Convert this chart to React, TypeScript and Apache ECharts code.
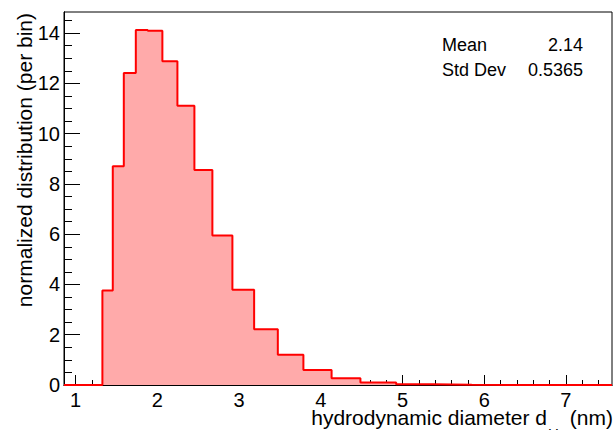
import React, { useEffect, useRef } from "react";
import * as echarts from "echarts";

// bin edges (nm) and bin contents
const binEdges = [0.857, 0.935, 1.02, 1.114, 1.216, 1.327, 1.454, 1.589, 1.736, 1.882, 2.061, 2.245, 2.453, 2.673, 2.918, 3.184, 3.474, 3.787, 4.132, 4.485, 4.922, 5.378, 5.848, 6.383, 6.967, 7.564];
const binValues = [0, 0, 0, 0, 0, 3.76, 8.7, 12.41, 14.12, 14.09, 12.88, 11.11, 8.55, 5.95, 3.79, 2.22, 1.2, 0.6, 0.27, 0.1, 0.03, 0.01, 0, 0, 0];
const xTickLabels = [1, 2, 3, 4, 5, 6, 7];
const yTickLabels = [0, 2, 4, 6, 8, 10, 12, 14];
const statNames = ["Mean", "Std Dev"];
const statValues = ["2.14", "0.5365"];

const X_MIN = 0.857;
const X_MAX = 7.564;
const Y_MAX = 14.84;
const FONT = "'Liberation Sans', Arial, Helvetica, sans-serif";

function range(a: number, b: number, step: number): number[] {
  const out: number[] = [];
  for (let v = a; v <= b + 1e-9; v += step) out.push(Math.round(v * 1000) / 1000);
  return out;
}

export default function App() {
  const ref = useRef<HTMLDivElement>(null);
  useEffect(() => {
    if (!ref.current) return;
    const chart = echarts.init(ref.current, null, { renderer: "svg" });
    const data = binEdges.map((e, i) => [e, binValues[Math.min(i, binValues.length - 1)]]);
    const xMinor = range(0.2, 7.6, 0.2).filter((v) => v > X_MIN && v < X_MAX);
    const yMinor = range(0, 14.5, 0.5);
    const grid = { left: 64, right: 2, top: 12, bottom: 45, show: true, borderColor: "#000", borderWidth: 1, backgroundColor: "transparent" };
    const baseX = {
      type: "value",
      min: X_MIN,
      max: X_MAX,
      position: "bottom",
      splitLine: { show: false },
      axisLine: { show: true, onZero: false, lineStyle: { color: "#000", width: 1 } },
    };
    const baseY = {
      type: "value",
      min: 0,
      max: Y_MAX,
      position: "left",
      splitLine: { show: false },
      axisLine: { show: true, onZero: false, lineStyle: { color: "#000", width: 1 } },
    };
    chart.setOption({
      animation: false,
      grid,
      xAxis: [
        {
          ...baseX,
          axisTick: { show: true, inside: true, length: 10, customValues: xTickLabels, lineStyle: { color: "#000" } },
          axisLabel: { show: true, customValues: xTickLabels, margin: 8, lineHeight: 14, fontSize: 20, color: "#000", fontFamily: FONT },
        },
        {
          ...baseX,
          axisTick: { show: true, inside: true, length: 5, customValues: xMinor, lineStyle: { color: "#000" } },
          axisLabel: { show: false },
        },
      ],
      yAxis: [
        {
          ...baseY,
          axisTick: { show: true, inside: true, length: 16, customValues: yTickLabels, lineStyle: { color: "#000" } },
          axisLabel: { show: true, customValues: yTickLabels, margin: 4, fontSize: 20, color: "#000", fontFamily: FONT },
        },
        {
          ...baseY,
          offset: 0,
          axisTick: { show: true, inside: true, length: 8, customValues: yMinor, lineStyle: { color: "#000" } },
          axisLabel: { show: false },
        },
      ],
      series: [
        {
          type: "line",
          step: "end",
          data,
          symbol: "none",
          lineStyle: { color: "#ff0000", width: 2 },
          areaStyle: { color: "#ffaaaa", opacity: 1 },
          z: 1,
        },
      ],
      graphic: [
        {
          type: "text",
          x: 24,
          y: 13,
          rotation: Math.PI / 2,
          style: { text: "normalized distribution (per bin)", fontSize: 21, fontFamily: FONT, fill: "#000", align: "right", verticalAlign: "middle" },
        },
        {
          type: "text",
          x: 547,
          y: 417,
          style: { text: "hydrodynamic diameter d", fontSize: 21, lineHeight: 14, fontFamily: FONT, fill: "#000", align: "right", verticalAlign: "middle" },
        },
        {
          type: "text",
          x: 548,
          y: 433,
          style: { text: "H", fontSize: 15, fontFamily: FONT, fill: "#000", align: "left", verticalAlign: "middle" },
        },
        {
          type: "text",
          x: 613,
          y: 417,
          style: { text: " (nm)", fontSize: 21, lineHeight: 14, fontFamily: FONT, fill: "#000", align: "right", verticalAlign: "middle" },
        },
        ...statNames.map((n, i) => ({
          type: "text",
          x: 442,
          y: 44.5 + i * 25.3,
          style: { text: n, fontSize: 18, fontFamily: FONT, fill: "#000", align: "left", verticalAlign: "middle" },
        })),
        ...statValues.map((v, i) => ({
          type: "text",
          x: 583,
          y: 44.5 + i * 25.3,
          style: { text: v, fontSize: 18, fontFamily: FONT, fill: "#000", align: "right", verticalAlign: "middle" },
        })),
      ],
    });
    return () => chart.dispose();
  }, []);
  return <div ref={ref} style={{ position: "fixed", left: 0, top: 0, width: 614, height: 430, background: "#fff" }} />;
}
